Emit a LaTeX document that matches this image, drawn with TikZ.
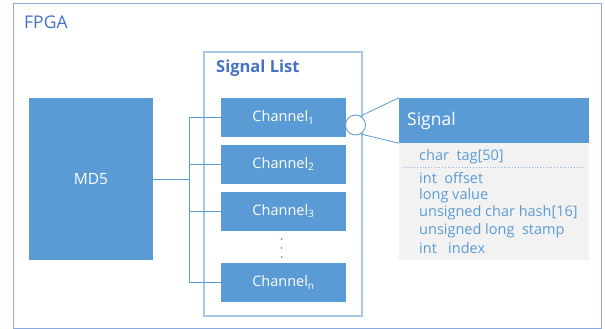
\documentclass[tikz,border=0pt]{standalone}
\usepackage{fontspec}
\setmainfont{Open Sans}
\definecolor{boxblue}{HTML}{5B9BD5}
\definecolor{frameblue}{HTML}{8EA9DB}
\definecolor{listblue}{HTML}{A9C8E8}
\definecolor{titleblue}{HTML}{4472C4}
\definecolor{bodygray}{HTML}{F2F2F2}
\tikzset{
  bluebox/.style={fill=boxblue, draw=none, text=white, inner sep=0pt},
  chbox/.style={bluebox, minimum width=125pt, minimum height=39pt, font=\fontsize{14.5}{16}\selectfont},
  bus/.style={draw=boxblue, line width=0.8pt},
  fieldtext/.style={anchor=west, text=boxblue, inner sep=0pt, font=\fontsize{14.5}{16}\selectfont},
}
\begin{document}
\begin{tikzpicture}[x=1pt,y=-1pt]
\useasboundingbox (0,0) rectangle (605,329);
% outer FPGA frame
\draw[frameblue, line width=1pt] (13,4) rectangle (601,328);
\node[anchor=west, text=titleblue, inner sep=0pt, font=\fontsize{17.5}{20}\selectfont] (fpga) at (24,22) {FPGA};
% MD5 block
\node[bluebox, minimum width=124pt, minimum height=162pt, font=\fontsize{15.5}{18}\selectfont] (md5) at (91,179) {MD5};
% Signal list frame
\draw[listblue, line width=1.3pt] (204,52) rectangle (362,316);
\node[anchor=west, text=titleblue, inner sep=0pt, font=\fontsize{16.5}{19}\selectfont\bfseries] (sl) at (216,68) {Signal List};
% channels
\node[chbox] (ch1) at (283.5,117.5) {Channel\textsubscript{1}};
\node[chbox] (ch2) at (283.5,164) {Channel\textsubscript{2}};
\node[chbox] (ch3) at (283.5,211) {Channel\textsubscript{3}};
\node[chbox] (chn) at (283.5,282.5) {Channel\textsubscript{n}};
% dots
\foreach \yy in {239,248,257} \fill[boxblue] (281.5,\yy) circle (1pt);
% bus
\coordinate (bx) at (189,179);
\draw[bus] (md5.east |- bx) -- (bx);
\draw[bus] (bx |- ch1.west) -- (bx |- chn.west);
\draw[bus] (bx |- ch1.west) -- (ch1.west);
\draw[bus] (bx |- ch2.west) -- (ch2.west);
\draw[bus] (bx |- ch3.west) -- (ch3.west);
\draw[bus] (bx |- chn.west) -- (chn.west);
% Signal struct
\node[bluebox, minimum width=190pt, minimum height=45pt] (sighead) at (494,120.5) {};
\node[anchor=west, text=white, inner sep=0pt, font=\fontsize{17.5}{20}\selectfont] (sigtitle) at (407,121) {Signal};
\node[fill=bodygray, draw=none, inner sep=0pt, minimum width=190pt, minimum height=117pt, anchor=north] (sigbody) at (sighead.south) {};
\coordinate (dl) at (403,167);
\coordinate (dr) at (585,167);
\draw[boxblue!70, dotted, line width=0.8pt] (dl) -- (dr);
\node[fieldtext] (f1) at (419,157) {char\ \ tag[50]};
\node[fieldtext] (f2) at (419,178) {int\ \ offset};
\node[fieldtext] (f3) at (419,196) {long value};
\node[fieldtext] (f4) at (419,213) {unsigned char hash[16]};
\node[fieldtext] (f5) at (419,231) {unsigned long\ \ stamp};
\node[fieldtext] (f6) at (419,248) {int\ \ \ index};
% zoom circle
\node[circle, draw=boxblue, fill=white, line width=0.8pt, minimum size=20pt, inner sep=0pt] (zc) at (355.5,125) {};
\draw[bus] (zc.60) -- (sighead.north west);
\draw[bus] (zc.-60) -- (sighead.south west);
\end{tikzpicture}
\end{document}
